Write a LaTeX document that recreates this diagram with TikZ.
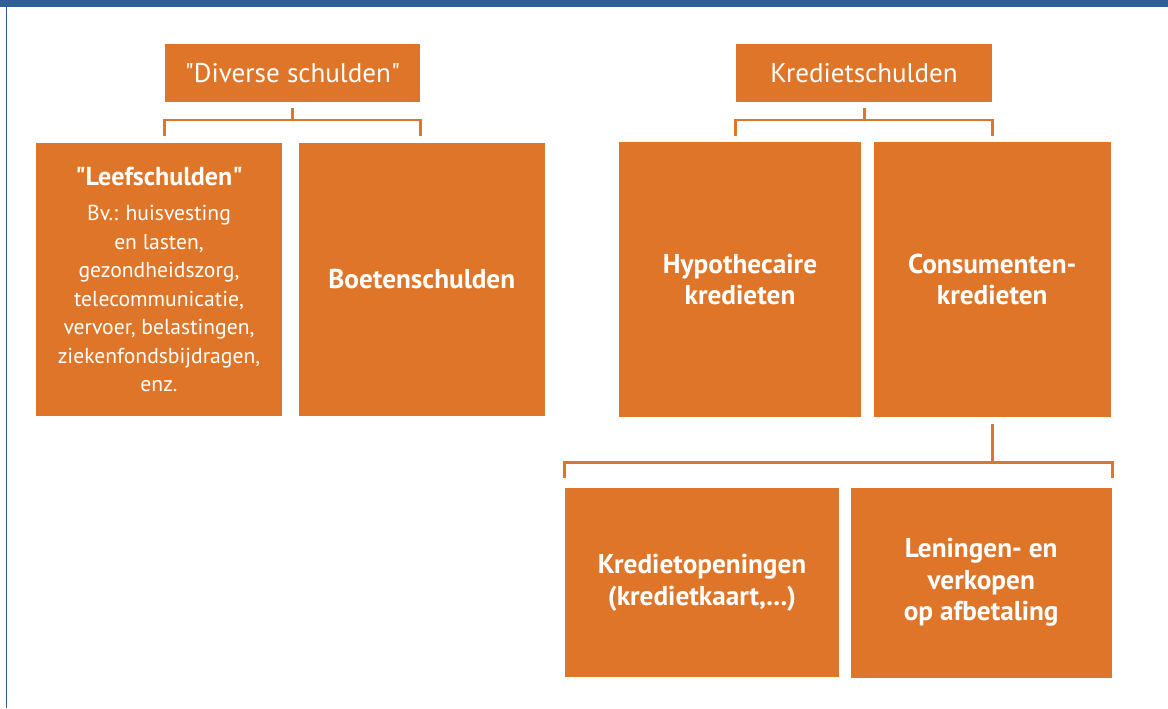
\documentclass[tikz,border=0pt]{standalone}
\usepackage{fontspec}
\setmainfont{PT Sans}
\usepackage{xcolor}
\definecolor{schorange}{RGB}{223,117,40}
\definecolor{schblue}{RGB}{46,96,150}
\usetikzlibrary{positioning}

\tikzset{
  blok/.style={fill=schorange, text=white, inner sep=0pt, align=center},
  kop/.style={blok, minimum height=1.16cm, font=\fontsize{15.4}{18}\selectfont},
  vak/.style={blok, font=\fontsize{15.5}{18}\selectfont\bfseries},
  tak/.style={draw=schorange, line width=1.7pt},
}

\begin{document}
\begin{tikzpicture}
  \useasboundingbox (0,0) rectangle (23.36,14.16);
  % Frame
  \fill[schblue] (0,14.01) rectangle (23.36,14.16);
  \draw[schblue, line width=0.75pt] (0.13,0) -- (0.13,14.01);

  % --- Left tree: diverse schulden ---
  \node[kop, minimum width=5.10cm] (div) at (5.85,12.70) {\textquotedbl Diverse schulden\textquotedbl};
  \node[blok, minimum width=4.92cm, minimum height=5.46cm,
        font=\fontsize{12.3}{16.2}\selectfont] (leef) at (3.18,8.57)
    {{\fontsize{14.8}{16.2}\selectfont\bfseries \textquotedbl Leefschulden\textquotedbl}\\[4pt]
     Bv.: huisvesting\\ en lasten,\\ gezondheidszorg,\\ telecommunicatie,\\
     vervoer, belastingen,\\ ziekenfondsbijdragen,\\ enz.};
  \node[vak, minimum width=4.92cm, minimum height=5.46cm, right=0.32cm of leef] (boet) {Boetenschulden};
  \draw[tak] (div.south |- 0,12.00) -- (div.south |- 0,11.76);
  \draw[tak] (div.west |- 0,11.45) -- (div.west |- 0,11.76) -| (div.east |- 0,11.45);

  % --- Right tree: kredietschulden ---
  \node[kop, minimum width=5.12cm] (kred) at (17.28,12.70) {Kredietschulden};
  \node[vak, minimum width=4.84cm, minimum height=5.50cm] (hypo) at (14.80,8.57) {Hypothecaire\\ kredieten};
  \node[vak, minimum width=4.74cm, minimum height=5.50cm, right=0.24cm of hypo] (cons) {Consumenten-\\ kredieten};
  \draw[tak] (kred.south |- 0,12.00) -- (kred.south |- 0,11.76);
  \draw[tak] (kred.west |- 0,11.45) -- (kred.west |- 0,11.76) -| (kred.east |- 0,11.45);

  % Consumentenkredieten split
  \node[vak, minimum width=5.48cm, minimum height=3.78cm] (kopen) at (14.04,2.51) {Kredietopeningen\\ (kredietkaart,...)};
  \node[vak, minimum width=5.22cm, minimum height=3.80cm, right=0.22cm of kopen] (lenen) {Leningen- en\\ verkopen\\ op afbetaling};
  \draw[tak] (cons.south |- 0,5.68) -- (cons.south |- 0,4.91);
  \draw[tak] (kopen.north west |- 0,4.60) -- (kopen.north west |- 0,4.91) -| (lenen.north east |- 0,4.60);
\end{tikzpicture}
\end{document}
